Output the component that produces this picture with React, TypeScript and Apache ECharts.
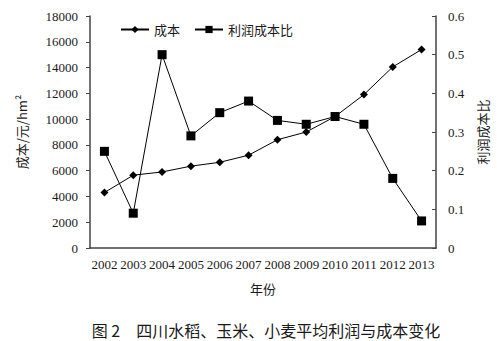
import React, { useEffect, useRef } from "react";
import * as echarts from "echarts";

const years = ["2002", "2003", "2004", "2005", "2006", "2007", "2008", "2009", "2010", "2011", "2012", "2013"];
const cost = [4300, 5650, 5900, 6350, 6650, 7200, 8400, 9000, 10200, 11900, 14050, 15400];
const ratio = [0.25, 0.09, 0.5, 0.29, 0.35, 0.38, 0.33, 0.32, 0.34, 0.32, 0.18, 0.07];

const serif = "Times New Roman";
const cjk = "Noto Sans CJK SC";
const ink = "#1a1a1a";

export default function App() {
  const ref = useRef<HTMLDivElement>(null);
  useEffect(() => {
    const chart = echarts.init(ref.current!, null, { renderer: "svg" });
    chart.setOption({
      animation: false,
      backgroundColor: "#fff",
      textStyle: { fontFamily: serif },
      title: {
        text: "图 2　四川水稻、玉米、小麦平均利润与成本变化",
        left: 261,
        textAlign: "center",
        top: 316,
        textStyle: { fontFamily: cjk, fontSize: 16, lineHeight: 18, fontWeight: "normal", color: ink },
      },
      legend: {
        left: 115,
        top: 18,
        itemWidth: 28,
        itemHeight: 9,
        itemGap: 14,
        textStyle: { fontFamily: cjk, fontSize: 13, color: ink },
        data: ["成本", "利润成本比"],
      },
      grid: { left: 90, right: 57, top: 16, bottom: 93 },
      xAxis: {
        type: "category",
        data: years,
        boundaryGap: true,
        name: "年份",
        nameLocation: "middle",
        nameGap: 34,
        nameTextStyle: { fontFamily: cjk, fontSize: 13, color: ink },
        axisLine: { lineStyle: { color: "#444", width: 1.5 } },
        axisTick: { inside: true, length: 4, lineStyle: { color: "#444" } },
        axisLabel: { interval: 0, margin: 10, fontFamily: serif, fontSize: 13, color: ink },
      },
      yAxis: [
        {
          type: "value",
          min: 0,
          max: 18000,
          interval: 2000,
          name: "成本/元/hm²",
          nameLocation: "middle",
          nameGap: 62,
          nameTextStyle: { fontFamily: cjk, fontSize: 13, color: ink },
          splitLine: { show: false },
          axisLine: { show: true, lineStyle: { color: "#444", width: 1.5 } },
          axisTick: { show: true, inside: false, length: 4, lineStyle: { color: "#444" } },
          axisLabel: { margin: 12, fontFamily: serif, fontSize: 13, color: ink, formatter: (v: number) => String(v) },
        },
        {
          type: "value",
          min: 0,
          max: 0.6,
          interval: 0.1,
          position: "right",
          name: "利润成本比",
          nameLocation: "middle",
          nameGap: 40,
          nameRotate: 90,
          nameTextStyle: { fontFamily: cjk, fontSize: 13, color: ink },
          splitLine: { show: false },
          axisLine: { show: true, lineStyle: { color: "#444", width: 1.5 } },
          axisTick: { show: true, inside: true, length: 4, lineStyle: { color: "#444" } },
          axisLabel: { margin: 12, fontFamily: serif, fontSize: 13, color: ink, formatter: (v: number) => String(Math.round(v * 10) / 10) },
        },
      ],
      series: [
        {
          name: "成本",
          type: "line",
          data: cost,
          yAxisIndex: 0,
          symbol: "diamond",
          symbolSize: 8,
          lineStyle: { color: "#000", width: 1 },
          itemStyle: { color: "#000" },
        },
        {
          name: "利润成本比",
          type: "line",
          data: ratio,
          yAxisIndex: 1,
          symbol: "rect",
          symbolSize: 9,
          lineStyle: { color: "#000", width: 1 },
          itemStyle: { color: "#000" },
        },
      ],
    });
    return () => chart.dispose();
  }, []);
  return <div ref={ref} style={{ width: 497, height: 341, position: "absolute", left: 0, top: 0 }} />;
}
